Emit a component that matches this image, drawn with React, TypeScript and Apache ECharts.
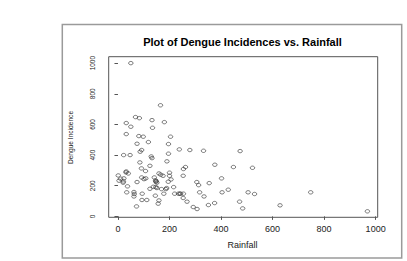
import React, { useEffect, useRef } from "react";
import * as echarts from "echarts";

const rainfall = [
  50, 165, 68, 83, 132, 180, 32, 50, 134, 32, 81, 98, 204, 118, 74, 196, 92, 238, 279, 332,
  474, 86, 196, 22, 47, 129, 132, 190, 85, 376, 124, 448, 262, 522, 254, 91, 32, 107, 31, 40,
  159, 200, 166, 175, 1, 200, 92, 141, 253, 10, 23, 101, 108, 206, 402, 4, 21, 146, 147, 74,
  195, 20, 306, 354, 151, 313, 37, 137, 147, 216, 124, 169, 186, 151, 189, 428, 62, 34, 317, 404,
  505, 748, 63, 94, 178, 220, 235, 243, 254, 530, 145, 62, 334, 253, 93, 112, 159, 268, 472, 156,
  375, 351, 629, 72, 292, 307, 484, 968, 240, 148,
];
const incidence = [
  1000, 725, 648, 641, 628, 615, 609, 585, 578, 537, 524, 520, 520, 485, 474, 472, 433, 437, 433, 428,
  426, 422, 409, 400, 400, 391, 380, 359, 352, 337, 330, 322, 322, 317, 309, 313, 293, 296, 287, 280,
  280, 285, 272, 265, 267, 265, 254, 254, 265, 246, 248, 243, 248, 241, 248, 233, 228, 235, 226, 224,
  226, 220, 224, 217, 220, 204, 196, 193, 191, 191, 180, 178, 178, 185, 185, 174, 159, 157, 157, 157,
  157, 157, 146, 148, 148, 148, 148, 148, 148, 146, 135, 130, 130, 120, 107, 107, 104, 96, 96, 83,
  87, 74, 72, 65, 61, 48, 52, 33, 148, 230,
];
const xTicks = [0, 200, 400, 600, 800, 1000];
const yTicks = [0, 200, 400, 600, 800, 1000];

const titleText = "Plot of Dengue Incidences vs. Rainfall";
const xName = "Rainfall";
const yName = "Dengue Incidence";

const FONT = "'Liberation Sans', Arial, sans-serif";

export default function App() {
  const ref = useRef<HTMLDivElement>(null);
  useEffect(() => {
    if (!ref.current) return;
    const chart = echarts.init(ref.current, null, { renderer: "svg" });
    chart.setOption({
      animation: false,
      backgroundColor: "#ffffff",
      grid: {
        left: 108.7,
        top: 56.7,
        width: 269,
        height: 160.6,
        show: true,
        borderColor: "#555555",
        borderWidth: 1,
        backgroundColor: "transparent",
      },
      xAxis: {
        type: "value",
        min: -36,
        max: 1008,
        axisLine: { show: false },
        splitLine: { show: false },
        axisTick: {
          show: true,
          length: 3.5,
          customValues: xTicks,
          lineStyle: { color: "#555555", width: 1 },
        },
        axisLabel: {
          customValues: xTicks,
          formatter: (v: number) => String(v),
          fontFamily: FONT,
          fontSize: 9,
          color: "#222222",
          margin: 7,
        },
      },
      yAxis: {
        type: "value",
        min: -6,
        max: 1042,
        axisLine: { show: false },
        splitLine: { show: false },
        axisTick: {
          show: true,
          length: 3.5,
          customValues: yTicks,
          lineStyle: { color: "#555555", width: 1 },
        },
        axisLabel: {
          customValues: yTicks,
          formatter: (v: number) => String(v),
          fontFamily: FONT,
          fontSize: 6.5,
          color: "#222222",
          rotate: 90,
          margin: 13,
        },
      },
      graphic: [
        {
          type: "rect",
          shape: { x: 62.3, y: 24.5, width: 339.4, height: 233.6 },
          style: { fill: "none", stroke: "#9a9a9a", lineWidth: 1.5 },
          silent: true,
        },
        {
          type: "text",
          x: 242.5,
          y: 41.5,
          style: {
            text: titleText,
            fontFamily: FONT,
            fontSize: 11,
            fontWeight: "bold",
            fill: "#000000",
            textAlign: "center",
            textVerticalAlign: "middle",
          },
        },
        {
          type: "text",
          x: 242.5,
          y: 245,
          style: {
            text: xName,
            fontFamily: FONT,
            fontSize: 9,
            fill: "#222222",
            textAlign: "center",
            textVerticalAlign: "middle",
          },
        },
        {
          type: "text",
          x: 70,
          y: 137.5,
          rotation: Math.PI / 2,
          style: {
            text: yName,
            fontFamily: FONT,
            fontSize: 6.6,
            fill: "#222222",
            textAlign: "center",
            textVerticalAlign: "middle",
          },
        },
      ],
      series: [
        {
          type: "scatter",
          symbol: "circle",
          symbolSize: [4.5, 3.4],
          data: rainfall.map((x, i) => [x, incidence[i]]),
          itemStyle: {
            color: "rgba(0,0,0,0)",
            borderColor: "#333333",
            borderWidth: 0.8,
          },
          silent: true,
        },
      ],
    });
    return () => chart.dispose();
  }, []);
  return (
    <div
      ref={ref}
      style={{ position: "fixed", left: 0, top: 0, width: 407, height: 261 }}
    />
  );
}
